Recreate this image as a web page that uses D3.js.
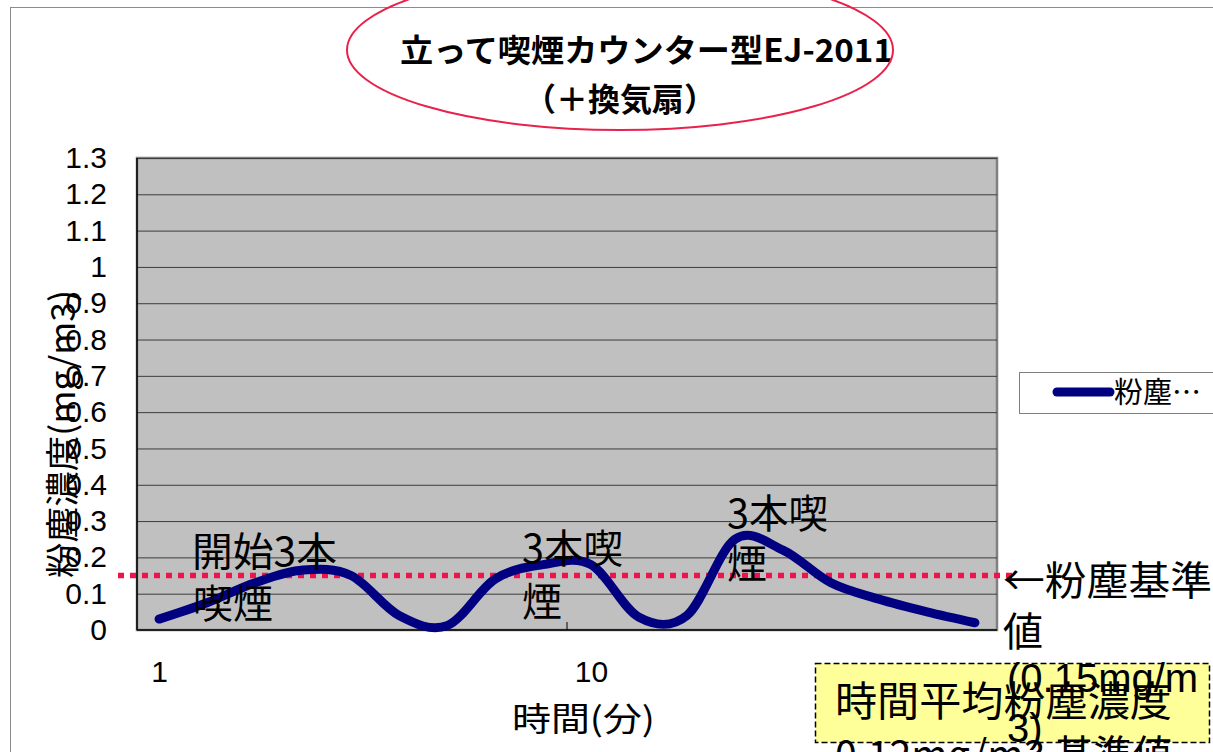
<!DOCTYPE html>
<html>
<head>
<meta charset="utf-8">
<script src="https://cdn.jsdelivr.net/npm/d3@7"></script>
<style>
  html, body { margin: 0; padding: 0; background: #fff; overflow: hidden; }
  svg { display: block; }
</style>
</head>
<body>
<svg id="chart" width="1213" height="752"></svg>
<script>
// Dust concentration per minute at a standing smoking counter (EJ-2011 + ventilation fan)
const minutes = d3.range(1, 19);
const dust = [0.03, 0.075, 0.13, 0.165, 0.15, 0.04, 0.012, 0.14, 0.18, 0.18,
              0.035, 0.04, 0.25, 0.22, 0.13, 0.085, 0.05, 0.02];
const yTicks = [0, 0.1, 0.2, 0.3, 0.4, 0.5, 0.6, 0.7, 0.8, 0.9, 1, 1.1, 1.2, 1.3];
const xTickLabels = [1, 10];
const xTickEvery = 9;
const dustStandard = 0.15;
const seriesName = "粉塵…";
const titleLines = ["立って喫煙カウンター型EJ-2011", "（＋換気扇）"];
const yTitle = "粉塵濃度(mg/m3)";
const xTitle = "時間(分)";

const LATIN = "'Liberation Sans', 'Noto Sans CJK JP', sans-serif";
const JP = "'Noto Sans CJK JP', 'Liberation Sans', sans-serif";

const svg = d3.select("#chart");
const plot = { left: 137, top: 158, right: 997, bottom: 630 };

const x = d3.scalePoint().domain(minutes).range([plot.left, plot.right]).padding(0.46);
const y = d3.scaleLinear().domain([0, 1.3]).range([plot.bottom, plot.top]);

// chart area
svg.append("rect").attr("x", 10.5).attr("y", 7.5).attr("width", 1400).attr("height", 900)
  .attr("fill", "#fff").attr("stroke", "#8c8c8c").attr("stroke-width", 1);

// plot area
svg.append("rect")
  .attr("x", plot.left).attr("y", plot.top)
  .attr("width", plot.right - plot.left).attr("height", plot.bottom - plot.top)
  .attr("fill", "#c0c0c0").attr("stroke", "#808080").attr("stroke-width", 2.5);

// horizontal gridlines
const grid = svg.append("g").attr("transform", `translate(${plot.left},0)`)
  .call(d3.axisLeft(y).tickValues(yTicks.slice(1)).tickSize(-(plot.right - plot.left)).tickFormat(""));
grid.select(".domain").remove();
grid.selectAll("line").attr("stroke", "#3c3c3c").attr("stroke-width", 1);

// axis lines
svg.append("line").attr("x1", plot.left).attr("x2", plot.left).attr("y1", plot.top).attr("y2", plot.bottom)
  .attr("stroke", "#000").attr("stroke-width", 1.5);
svg.append("line").attr("x1", plot.left).attr("x2", plot.right).attr("y1", plot.bottom).attr("y2", plot.bottom)
  .attr("stroke", "#000").attr("stroke-width", 1.5);

// y tick labels
const yAxis = svg.append("g").attr("transform", `translate(${plot.left},0)`)
  .call(d3.axisLeft(y).tickValues(yTicks).tickSize(0).tickPadding(30).tickFormat(d3.format("~g")));
yAxis.select(".domain").remove();
yAxis.selectAll("text").attr("font-family", LATIN).attr("font-size", 30).attr("fill", "#000");

// x tick labels
const xAxis = svg.append("g").attr("transform", `translate(0,${plot.bottom})`)
  .call(d3.axisBottom(x).tickValues(xTickLabels).tickSize(0).tickPadding(31));
xAxis.select(".domain").remove();
xAxis.selectAll("text").attr("font-family", LATIN).attr("font-size", 30).attr("fill", "#000");

// x tick marks between categories
const tickPos = minutes.filter((m, i) => i > 0 && i % xTickEvery === 0).map(m => x(m) - x.step() / 2);
svg.selectAll(".xtick").data(tickPos).join("line").attr("class", "xtick")
  .attr("x1", d => d).attr("x2", d => d).attr("y1", plot.bottom).attr("y2", plot.bottom - 8)
  .attr("stroke", "#000").attr("stroke-width", 1);

// axis titles
svg.append("text").attr("transform", "translate(60,434) rotate(-90)")
  .attr("text-anchor", "middle").attr("dominant-baseline", "central")
  .attr("font-family", JP).attr("font-size", 34).attr("fill", "#000")
  .attr("textLength", 288).attr("lengthAdjust", "spacingAndGlyphs")
  .text(yTitle);
svg.append("text").attr("x", 512).attr("y", 731)
  .attr("font-family", JP).attr("font-size", 33).attr("fill", "#000")
  .attr("textLength", 143).attr("lengthAdjust", "spacingAndGlyphs")
  .text(xTitle);

// standard line (0.15 mg/m3)
svg.append("line")
  .attr("x1", 118).attr("x2", 1012).attr("y1", y(dustStandard)).attr("y2", y(dustStandard))
  .attr("stroke", "#f0124a").attr("stroke-width", 5.5).attr("stroke-dasharray", "6 6");

// dust series
const line = d3.line().x((d, i) => x(minutes[i])).y(d => y(d)).curve(d3.curveCardinal.tension(0));
svg.append("path").datum(dust)
  .attr("d", line)
  .attr("fill", "none").attr("stroke", "#000080").attr("stroke-width", 9)
  .attr("stroke-linecap", "round").attr("stroke-linejoin", "round");

// in-plot notes
function note(tx, ty, str, len, size) {
  const t = svg.append("text").attr("x", tx).attr("y", ty)
    .attr("font-family", JP).attr("font-size", size || 40).attr("fill", "#000").text(str);
  if (len) t.attr("textLength", len).attr("lengthAdjust", "spacingAndGlyphs");
  return t;
}
note(192, 566, "開始3本", 145);
note(193, 618, "喫煙", 80);
note(522, 563, "3本喫", 101);
note(522, 616, "煙");
note(727, 528, "3本喫", 101);
note(727, 578, "煙");

// average concentration box
svg.append("rect").attr("x", 815.5).attr("y", 663.5).attr("width", 394).attr("height", 79)
  .attr("fill", "#ffff99").attr("stroke", "#000").attr("stroke-width", 1.5).attr("stroke-dasharray", "6 3");
note(835, 716, "時間平均粉塵濃度", 337, 41);
note(835, 770, "0.12mg/m3 基準値", 337, 41);

// standard label
note(1003, 595, "←粉塵基準", 209);
note(1003, 646, "値");
svg.append("text").attr("x", 1007).attr("y", 692).attr("font-family", LATIN).attr("font-size", 40)
  .attr("fill", "#000").text("(0.15mg/m");
svg.append("text").attr("x", 1007).attr("y", 742).attr("font-family", LATIN).attr("font-size", 40)
  .attr("fill", "#000").text("3)");

// legend
svg.append("rect").attr("x", 1019.5).attr("y", 372.5).attr("width", 260).attr("height", 41)
  .attr("fill", "#fff").attr("stroke", "#808080").attr("stroke-width", 1);
svg.append("line").attr("x1", 1057).attr("x2", 1110).attr("y1", 392).attr("y2", 392)
  .attr("stroke", "#000080").attr("stroke-width", 9).attr("stroke-linecap", "round");
svg.append("text").attr("x", 1114).attr("y", 403).attr("font-family", JP).attr("font-size", 29)
  .attr("fill", "#000").text(seriesName);

// title
svg.append("text").attr("x", 400).attr("y", 62)
  .attr("font-family", JP).attr("font-weight", 700).attr("font-size", 32).attr("fill", "#000")
  .attr("textLength", 493).attr("lengthAdjust", "spacingAndGlyphs").text(titleLines[0]);
svg.append("text").attr("x", 524).attr("y", 111)
  .attr("font-family", JP).attr("font-weight", 700).attr("font-size", 32).attr("fill", "#000")
  .attr("textLength", 192).attr("lengthAdjust", "spacingAndGlyphs").text(titleLines[1]);

// highlight ellipse round the title
svg.append("ellipse").attr("cx", 620).attr("cy", 50).attr("rx", 273).attr("ry", 80)
  .attr("fill", "none").attr("stroke", "#e8224a").attr("stroke-width", 2);
</script>
</body>
</html>
